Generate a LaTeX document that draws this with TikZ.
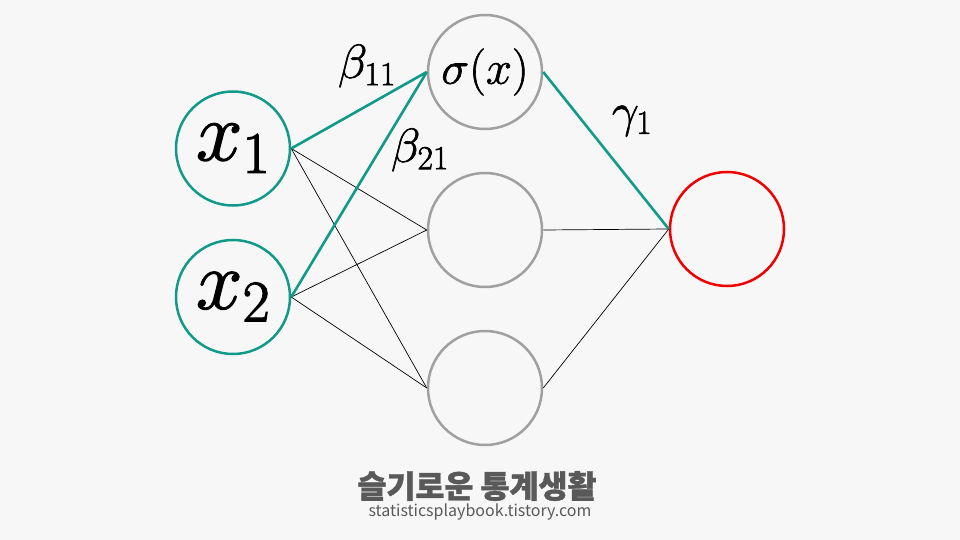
\RequirePackage{fix-cm}
\documentclass[tikz,border=0pt]{standalone}
\usepackage{fontspec}
\newfontfamily\kr[BoldFeatures={FakeBold=1.2}]{Noto Sans CJK KR}
\definecolor{bg}{HTML}{F7F7F7}
\definecolor{teal1}{HTML}{11998A}
\definecolor{grayc}{HTML}{A0A0A0}
\definecolor{redc}{HTML}{F00000}
\definecolor{txtg}{HTML}{595959}
\newcommand{\heavy}[2]{\special{pdf:literal direct 2 Tr #1 w}#2\special{pdf:literal direct 0 Tr}}
\tikzset{
  neuron/.style={circle, minimum size=114pt, inner sep=0pt, line width=2.5pt, fill=bg},
  inp/.style={neuron, draw=teal1, font=\fontsize{84}{86}\selectfont},
  hid/.style={neuron, draw=grayc, font=\fontsize{47}{50}\selectfont},
  outn/.style={neuron, draw=redc},
  thin/.style={black, line width=0.7pt},
  hl/.style={teal1, line width=2.6pt},
  lbl/.style={font=\fontsize{48}{50}\selectfont, inner sep=0pt}
}
\begin{document}
\begin{tikzpicture}[x=1pt,y=-1pt]
\fill[bg] (0,0) rectangle (960,540);
\useasboundingbox (0,0) rectangle (960,540);
\node[inp] (x1) at (233,148.5) {\heavy{1.2}{$x_{1}$}};
\node[inp] (x2) at (233,297) {\heavy{1.2}{$x_{2}$}};
\node[hid] (h1) at (485,72) {\heavy{0.6}{$\sigma(x)$}};
\node[hid] (h2) at (485,230) {};
\node[hid] (h3) at (485,388) {};
\node[outn] (o) at (727,229) {};
\draw[thin] (x1.east) -- (h2.west);
\draw[thin] (x1.east) -- (h3.west);
\draw[thin] (x2.east) -- (h2.west);
\draw[thin] (x2.east) -- (h3.west);
\draw[thin] (h2.east) -- (o.west);
\draw[thin] (h3.east) -- (o.west);
\draw[hl] (x1.east) -- (h1.west);
\draw[hl] (x2.east) -- (h1.west);
\draw[hl] (h1.east) -- (o.west);
\node[lbl] (b11) at (367,66) {\heavy{0.6}{$\beta_{11}$}};
\node[lbl] (b21) at (420,150) {\heavy{0.6}{$\beta_{21}$}};
\node[lbl] (g1) at (632,121) {\heavy{0.6}{$\gamma_1$}};
\node[font=\kr\bfseries\fontsize{31.5}{32}\selectfont, text=txtg, inner sep=0pt] (t1) at (477,486) {슬기로운 통계생활};
\node[font=\kr\fontsize{16}{17}\selectfont, text=txtg, inner sep=0pt] (t2) at (480,512) {statisticsplaybook.tistory.com};
\end{tikzpicture}
\end{document}
